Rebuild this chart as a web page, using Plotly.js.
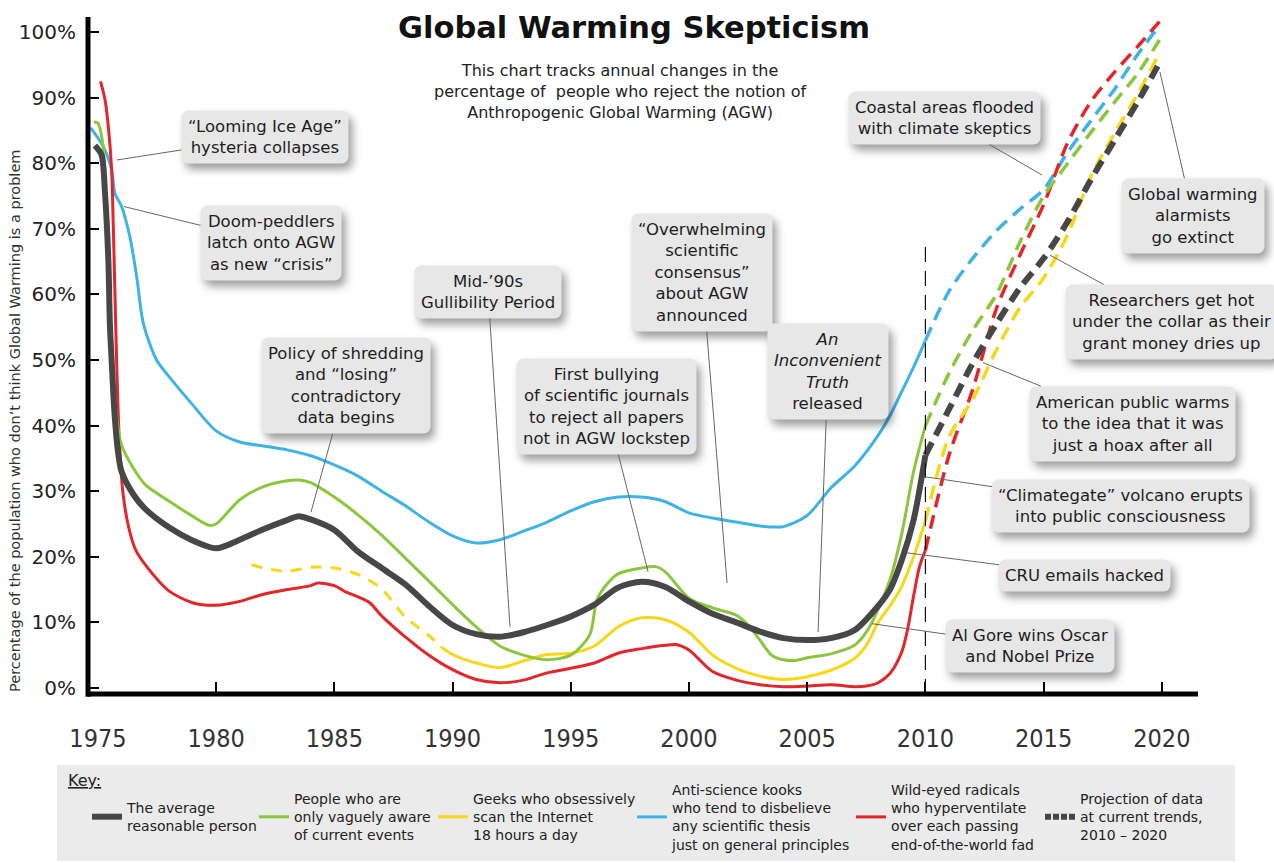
<!DOCTYPE html>
<html><head><meta charset="utf-8">
<script src="https://cdn.plot.ly/plotly-3.0.1.min.js"></script>
<style>
html,body{margin:0;padding:0;background:#fff}
#chart{width:1274px;height:863px}
.annotation rect.bg{rx:7px;ry:7px;filter:drop-shadow(4px 6px 4px rgba(0,0,0,0.38));}
</style>
</head><body><div id="chart"></div>
<script>
// ---------- DATA ----------
const grayYears = [1974.87,1975.15,1975.3,1975.44,1975.51,1975.58,1975.7,1975.85,1976,1976.5,1977,1978,1979,1980,1981,1982,1983,1983.5,1984,1985,1986,1987,1988,1989,1990,1991,1992,1993,1994,1995,1996,1997,1998,1999,2000,2001,2002,2003,2004,2005,2006,2007,2008,2008.5,2009,2009.5,2010];
const grayVals  = [82.7,81.3,75.4,65.3,55,50,42,36,33,29.5,27.3,24.5,22.5,21.3,22.6,24.2,25.6,26.2,25.7,24.1,20.8,18.3,15.8,12.5,9.6,8.2,7.8,8.5,9.6,10.9,12.7,15.3,16.2,15.4,13.2,11.3,10,8.6,7.6,7.3,7.6,8.8,12.5,15,19.5,25.6,35.5];

const greenYears = [1974.83,1975.0,1975.22,1975.37,1975.58,1975.8,1976,1976.5,1977,1978,1979,1979.7,1980,1981,1982,1983,1983.5,1984,1985,1986,1987,1988,1989,1990,1991,1992,1993,1994,1995,1995.8,1996.1,1996.5,1997,1998,1998.6,1999,2000,2001,2002,2002.5,2003,2003.5,2004,2004.5,2005,2006,2007,2007.5,2008,2008.5,2009,2009.5,2010];
const greenVals  = [86.3,86.1,82.6,70.4,50,41,37,33.5,31,28.5,26.2,24.8,25,28.7,30.7,31.6,31.7,31.3,29.1,26.4,23.3,19.8,16.3,12.7,9.3,6.4,5.0,4.3,5.0,8.1,13.4,15.7,17.4,18.3,18.5,17.7,13.7,12.2,11.1,9.6,7.3,5.0,4.3,4.2,4.6,5.2,6.5,8.5,12,16.5,23.5,33,40];

const yellowHistYears = [1981.5,1982,1983,1984,1985,1986,1987,1988,1989,1989.5];
const yellowHistVals  = [18.8,18.3,17.8,18.4,18.3,17.3,15.1,10.8,8.0,6.3];
const yellowYears = [1989.5,1990,1991,1992,1993,1994,1995,1996,1997,1998,1999,2000,2001,2002,2003,2004,2005,2006,2007,2007.5,2008,2008.5,2009,2009.5,2010];
const yellowVals  = [6.3,5.1,3.8,3.1,4.1,5.1,5.3,6.4,9.3,10.7,10.4,8.5,5.0,3.0,1.8,1.3,1.7,2.7,4.5,6.5,10,12.5,15.5,20,25.5];

const blueYears = [1974.69,1975.22,1975.58,1975.72,1976,1976.35,1976.64,1976.92,1977.48,1978,1979,1980,1981,1982,1983,1984,1985,1986,1987,1988,1989,1990,1991,1992,1993,1994,1995,1996,1997,1998,1999,2000,2001,2002,2003,2004,2005,2006,2007,2008,2008.5,2009,2009.5,2010];
const blueVals  = [85.4,82.6,79,75.4,73.4,68.8,62.7,55.6,50,47.5,43.2,39.2,37.5,36.9,36.3,35.4,34.0,32.3,30.0,27.8,25.3,23.2,22.1,22.6,23.9,25.3,27.0,28.4,29.1,29.1,28.4,26.7,25.9,25.3,24.7,24.6,26.3,30.5,33.8,38.5,41.5,45.2,48.9,53];

const redYears = [1975.11,1975.3,1975.44,1975.58,1975.65,1975.72,1975.79,1975.9,1976.05,1976.3,1976.6,1977,1978,1979,1980,1981,1982,1983,1984,1984.3,1985,1985.5,1986,1986.5,1987,1988,1989,1990,1991,1992,1993,1994,1995,1996,1997,1998,1999,1999.5,2000,2001,2002,2003,2004,2005,2006,2007,2007.5,2008,2008.5,2009,2009.25,2009.5,2009.75,2010];
const redVals  = [92.5,89.7,85.6,79,70.3,60.2,50,38,30,24.5,21,18.8,14.8,13,12.6,13.2,14.3,15,15.6,16,15.6,14.6,13.9,13.0,11,7.8,5,2.8,1.3,0.8,1.2,2.3,3,3.8,5.3,6,6.5,6.6,5.8,2.5,1.2,0.5,0.2,0.3,0.5,0.2,0.3,0.8,2.2,5.5,9,14,18.5,21];

// projection 2010 - 2020
const projYears  = [2010,2011,2012,2013,2014,2015,2016,2017,2018,2019,2019.9];
const grayProj   = [35.5,42.5,49.5,55.5,61,65.5,71,77.5,83.5,89.5,95.3];
const greenProj  = [40,48,54.5,60,68,75,79.9,84.7,89.3,93.8,98.8];
const yellowProj = [25.5,38.3,44,51.5,58,62.5,69,78,84.6,90.7,96.8];
const blueProj   = [53,60.5,65.5,69.7,73,76,81.6,86.5,91.3,96.7,101];
const redProj    = [21,35.5,45.5,57.8,66,73.7,83,89.4,93.9,97.9,101.6];

const seriesNames = [
  'The average<br>reasonable person',
  'People who are<br>only vaguely aware<br>of current events',
  'Geeks who obsessively<br>scan the Internet<br>18 hours a day',
  'Anti-science kooks<br>who tend to disbelieve<br>any scientific thesis<br>just on general principles',
  'Wild-eyed radicals<br>who hyperventilate<br>over each passing<br>end-of-the-world fad',
  'Projection of data<br>at current trends,<br>2010 – 2020'
];

const xTickYears = [1975,1980,1985,1990,1995,2000,2005,2010,2015,2020];
const yTickVals = [0,10,20,30,40,50,60,70,80,90,100];
const yTickText = ['0%','10%','20%','30%','40%','50%','60%','70%','80%','90%','100%'];

const noteTexts = [
 '“Looming Ice Age”<br>hysteria collapses',
 'Doom-peddlers<br>latch onto AGW<br>as new “crisis”',
 'Policy of shredding<br>and “losing”<br>contradictory<br>data begins',
 'Mid-’90s<br>Gullibility Period',
 'First bullying<br>of scientific journals<br>to reject all papers<br>not in AGW lockstep',
 '“Overwhelming<br>scientific<br>consensus”<br>about AGW<br>announced',
 '<i>An</i><br><i>Inconvenient</i><br><i>Truth</i><br>released',
 'Coastal areas flooded<br>with climate skeptics',
 'Global warming<br>alarmists<br>go extinct',
 'Researchers get hot<br>under the collar as their<br>grant money dries up',
 'American public warms<br>to the idea that it was<br>just a hoax after all',
 '“Climategate” volcano erupts<br>into public consciousness',
 'CRU emails hacked',
 'Al Gore wins Oscar<br>and Nobel Prize'
];

// ---------- LAYOUT / STYLE ----------
// [box centre x, box centre y, pointer x, pointer y] in data units
const notePos = [
 [1982.06,84.0,1975.80,80.5],
 [1982.32,67.9,1976.10,73.4],
 [1985.49,46.1,1984.01,26.8],
 [1991.50,60.4,1992.43,9.3],
 [1996.50,42.9,1998.27,17.7],
 [2000.55,63.3,2001.61,16.0],
 [2005.88,48.2,2005.46,8.5],
 [2010.79,86.9,2014.93,78.2],
 [2021.32,72.0,2019.92,93.9],
 [2020.43,55.8,2015.27,66.0],
 [2018.78,40.3,2012.44,49.6],
 [2018.27,27.8,2009.98,32.2],
 [2016.75,17.1,2009.22,20.6],
 [2014.42,6.4,2007.74,9.8]
];

const C = {gray:'#474747', green:'#8cc63f', yellow:'#f7d716', blue:'#3fb3e5', red:'#e2262b'};
const FONT = 'DejaVu Sans, Verdana, sans-serif';
const PROJ_DASH = '14px,8px';

function solid(x, y, color, width, name, legendId, extra) {
  return Object.assign({x:x, y:y, type:'scatter', mode:'lines', name:name,
    line:{color:color, width:width, shape:'spline', smoothing:0.8},
    legend:legendId, showlegend: !!name, hoverinfo:'skip'}, extra||{});
}
function dashed(x, y, color, width, dash) {
  return solid(x, y, color, width, null, null, {line:{color:color, width:width, dash:dash, shape:'spline', smoothing:0.8}});
}

const traces = [
  solid(blueYears, blueVals, C.blue, 3),
  dashed(projYears, blueProj, C.blue, 3.5, PROJ_DASH),
  solid(redYears, redVals, C.red, 3),
  dashed(projYears, redProj, C.red, 3.5, PROJ_DASH),
  dashed(yellowHistYears, yellowHistVals, C.yellow, 3, '11px,9px'),
  solid(yellowYears, yellowVals, C.yellow, 3),
  dashed(projYears, yellowProj, C.yellow, 3.5, PROJ_DASH),
  solid(greenYears, greenVals, C.green, 3),
  dashed(projYears, greenProj, C.green, 3.5, PROJ_DASH),
  solid(grayYears, grayVals, C.gray, 6),
  dashed(projYears, grayProj, C.gray, 6, PROJ_DASH),
  // legend entries
  solid([null],[null], C.gray, 6, seriesNames[0], 'legend'),
  solid([null],[null], C.green, 3, seriesNames[1], 'legend2'),
  solid([null],[null], C.yellow, 3, seriesNames[2], 'legend3'),
  solid([null],[null], C.blue, 3, seriesNames[3], 'legend4'),
  solid([null],[null], C.red, 3, seriesNames[4], 'legend5'),
  solid([null],[null], C.gray, 6, seriesNames[5], 'legend6', {line:{color:C.gray,width:6,dash:'6px,2px'}}),
  // carrier for tick-only axis
  {x:[null], y:[null], xaxis:'x2', type:'scatter', mode:'lines', showlegend:false, hoverinfo:'skip'}
];

// plot-area geometry in pixels
const L = 88, R = 76, T = 17, B = 169, W = 1274 - L - R, H = 863 - T - B;
const px2paperX = p => (p - L) / W;
const px2paperY = p => (863 - B - p) / H;

const annotations = [];
notePos.forEach((p, i) => {
  annotations.push({x:p[2], y:p[3], ax:p[0], ay:p[1], xref:'x', yref:'y', axref:'x', ayref:'y',
    text:noteTexts[i], showarrow:true, arrowhead:0, arrowwidth:1, arrowcolor:'#666', standoff:0,
    font:{family:FONT, size:16.5, color:'#1e1e1e'}, bgcolor:'#e7e7e7', borderpad:6, align:'center'});
});
annotations.push({xref:'paper', yref:'paper', x:px2paperX(620), y:px2paperY(92), showarrow:false,
  text:'This chart tracks annual changes in the<br>percentage of  people who reject the notion of<br>Anthropogenic Global Warming (AGW)',
  font:{family:FONT, size:16, color:'#222'}, align:'center', xanchor:'center', yanchor:'middle'});
annotations.push({xref:'paper', yref:'paper', x:px2paperX(15), y:px2paperY(421), showarrow:false, textangle:-90,
  text:'Percentage of the population who don’t think Global Warming is a problem',
  font:{family:FONT, size:14.5, color:'#333'}, xanchor:'center', yanchor:'middle'});
annotations.push({xref:'paper', yref:'paper', x:px2paperX(66), y:px2paperY(781), showarrow:false,
  text:'<u>Key:</u>', font:{family:FONT, size:16, color:'#222'}, xanchor:'left', yanchor:'middle'});

const legendTextStart = [127, 294, 473, 672, 891, 1080];
const legendBase = {orientation:'v', yanchor:'middle', xanchor:'left', y:px2paperY(817),
  bgcolor:'rgba(0,0,0,0)', borderwidth:0, valign:'middle', itemwidth:30,
  font:{family:FONT, size:14, color:'#222'}};
const layout = {
  width:1274, height:863, paper_bgcolor:'#fff', plot_bgcolor:'rgba(0,0,0,0)',
  margin:{l:L, r:R, t:T, b:B, pad:0, autoexpand:false}, hovermode:false, showlegend:true,
  title:{text:'Global Warming Skepticism', x:634/1274, xref:'container', xanchor:'center',
    y:1 - 27/863, yref:'container', yanchor:'middle',
    font:{family:FONT, size:30.5, weight:'bold', color:'#111'}},
  xaxis:{range:[1974.58, 2021.53], tickvals:xTickYears, ticks:'', showgrid:false, zeroline:false, showline:false,
    tickfont:{family:'Liberation Sans Narrow, DejaVu Sans Condensed, sans-serif', size:25, color:'#333'},
    ticklabelstandoff:27, fixedrange:true},
  xaxis2:{overlaying:'x', matches:'x', anchor:'y', side:'bottom', tickvals:xTickYears.slice(1), ticks:'inside', ticklen:12,
    tickwidth:2, tickcolor:'#000', showticklabels:false, showgrid:false, zeroline:false, showline:false},
  yaxis:{range:[-0.92, 102.3], tickvals:yTickVals, ticktext:yTickText, ticks:'inside', ticklen:11, tickwidth:2,
    tickcolor:'#000', showgrid:false, zeroline:false, showline:false,
    tickfont:{family:FONT, size:20, color:'#222'}, ticklabelstandoff:11, fixedrange:true},
  shapes:[
    {type:'rect', xref:'paper', yref:'paper', x0:px2paperX(57), x1:px2paperX(1235), y0:px2paperY(765), y1:px2paperY(861),
     fillcolor:'#ebebeb', line:{width:0}, layer:'below'},
    {type:'line', xref:'x', yref:'y', x0:2010, x1:2010, y0:-0.92, y1:68, line:{color:'#111', width:1.2, dash:'15px,9px'}},
    {type:'line', xref:'paper', yref:'paper', x0:0, x1:1, y0:0, y1:0, line:{color:'#000', width:5}},
    {type:'line', xref:'paper', yref:'paper', x0:0, x1:0, y0:-0.004, y1:1, line:{color:'#000', width:5}}
  ],
  annotations:annotations
};
['legend','legend2','legend3','legend4','legend5','legend6'].forEach((k, i) => {
  layout[k] = Object.assign({}, legendBase, {x:px2paperX(legendTextStart[i] - 40)});
});

Plotly.newPlot('chart', traces, layout, {staticPlot:true, displayModeBar:false});
</script>
</body></html>
